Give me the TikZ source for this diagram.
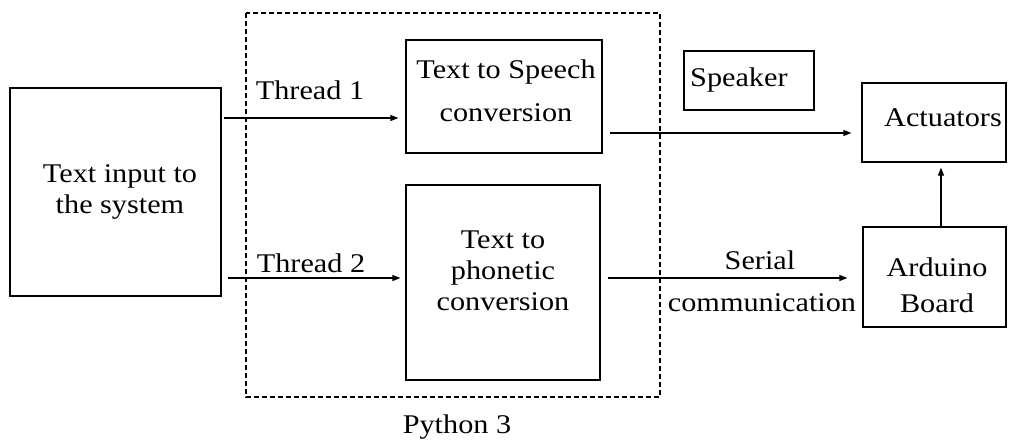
\documentclass[tikz,border=0pt]{standalone}
\usepackage{fontspec}
\setmainfont{Liberation Serif}[FakeStretch=1.12]
\usetikzlibrary{arrows.meta}
\begin{document}
\begin{tikzpicture}[x=1pt,y=-1pt,
  box/.style={draw, line width=1.2pt, rectangle, inner sep=0pt},
  txt/.style={font=\fontsize{27}{31}\selectfont, align=center, inner sep=0pt},
  conn/.style={-{Triangle[length=8pt,width=6pt]}, line width=1.2pt},
  pyframe/.style={draw, line width=1.2pt, dash pattern=on 5pt off 3pt}]
\useasboundingbox (0,0) rectangle (1009,439);
% python frame
\draw[pyframe] (246,13) rectangle (660,397);
% boxes
\node[box, minimum width=211pt, minimum height=208pt] (input) at (115.5,192) {};
\node[box, minimum width=196pt, minimum height=113pt] (tts) at (504,96.5) {};
\node[box, minimum width=194pt, minimum height=195pt] (phon) at (503,282.5) {};
\node[box, minimum width=130pt, minimum height=59pt] (spk) at (749,80.5) {};
\node[box, minimum width=144pt, minimum height=79pt] (act) at (934,122.5) {};
\node[box, minimum width=143pt, minimum height=100pt] (ard) at (934.5,277) {};
% texts
\node[txt] (inputtxt) at (120,192) {Text input to\\the system};
\node[txt] (ttstxt) at (506,91) {Text to Speech\\[12pt]conversion};
\node[txt] (phontxt) at (503,271) {Text to\\phonetic\\conversion};
\node[txt, anchor=west] (spktxt) at (690,80) {Speaker};
\node[txt] (acttxt) at (943,118) {Actuators};
\node[txt] (ardtxt) at (937,285) {Arduino\\[5pt]Board};
\node[txt] (th1) at (310,90) {Thread 1};
\node[txt] (th2) at (311,263) {Thread 2};
\node[txt] (serial) at (760,260) {Serial};
\node[txt] (comm) at (762,303) {communication};
\node[txt] (py) at (457,427) {Python 3};
% connectors
\coordinate (a1) at (0,118);
\coordinate (a2) at (0,278);
\coordinate (a3) at (0,133);
\coordinate (a4) at (941,0);
\draw[conn, shorten <=2pt, shorten >=7pt] (input.east |- a1) -- (tts.west |- a1);
\draw[conn, shorten <=6pt, shorten >=5pt] (input.east |- a2) -- (phon.west |- a2);
\draw[conn, shorten <=7pt, shorten >=10pt] (tts.east |- a3) -- (act.west |- a3);
\draw[conn, shorten <=7pt, shorten >=15pt] (phon.east |- a2) -- (ard.west |- a2);
\draw[conn, shorten >=5pt] (ard.north -| a4) -- (act.south -| a4);
\end{tikzpicture}
\end{document}
